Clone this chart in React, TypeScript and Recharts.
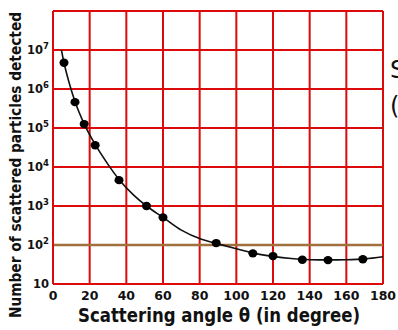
import {
  ComposedChart,
  Line,
  Scatter,
  XAxis,
  YAxis,
  CartesianGrid,
  ReferenceLine,
} from 'recharts';

// measured points (scattering angle in degree, particles detected)
const pointAngles = [6, 12, 17, 23, 36, 51, 60, 89, 109, 120, 136, 150, 169];
const pointCounts = [4.7e6, 4.6e5, 1.26e5, 3.6e4, 4.6e3, 1.0e3, 5.1e2, 112, 61, 52, 42, 41, 43];

// hand-drawn fitted curve
const curveAngles = [4.6, 6, 9, 12, 17, 23, 30, 36, 44, 51, 60, 70, 81, 89, 100, 110, 120, 130, 140, 150, 160, 170, 180];
const curveCounts = [1e7, 4.7e6, 1.35e6, 4.8e5, 1.28e5, 3.8e4, 1.17e4, 4.8e3, 1.9e3, 1.0e3, 5.1e2, 240, 140, 110, 80, 61, 51, 45, 42, 41.5, 42, 44, 50];

const xTicks = [0, 20, 40, 60, 80, 100, 120, 140, 160, 180];
const yTicks = [10, 1e2, 1e3, 1e4, 1e5, 1e6, 1e7, 1e8];

const RED = '#dc0a0a';
const BROWN = '#a0703c';
const FONT = '"DejaVu Sans", sans-serif';

const curveData = curveAngles.map((angle, i) => ({ angle, count: curveCounts[i] }));
const pointData = pointAngles.map((angle, i) => ({ angle, count: pointCounts[i] }));

function YTick({ x, y, payload }: { x: number; y: number; payload: { value: number } }) {
  const exp = Math.round(Math.log10(payload.value));
  if (exp >= 8) return null;
  return (
    <text x={x} y={y} dy={4} textAnchor="end" fontFamily={FONT} fontWeight="bold" fontSize={11.5} fill="#111">
      10
      {exp > 1 && (
        <tspan dy={-5} fontSize={8.5}>
          {exp}
        </tspan>
      )}
    </text>
  );
}

function XTitle() {
  return (
    <text x={219} y={322} textAnchor="middle" fontFamily={FONT} fontWeight="bold" fontSize={20} fill="#111"
      textLength={282} lengthAdjust="spacingAndGlyphs">
      Scattering angle  θ (in degree)
    </text>
  );
}

function YTitle() {
  return (
    <text x={0} y={0} transform="translate(21,165) rotate(-90)" textAnchor="middle" fontFamily={FONT}
      fontWeight="bold" fontSize={16} fill="#111" textLength={306} lengthAdjust="spacingAndGlyphs">
      Number of scattered particles detected
    </text>
  );
}

export default function App() {
  return (
    <div style={{ position: 'absolute', left: 0, top: 0, width: 398, height: 330, overflow: 'hidden', background: '#fff' }}>
      <ComposedChart width={398} height={330} data={curveData} margin={{ top: 11, right: 15, bottom: 0, left: 0 }}>
        <CartesianGrid stroke={RED} strokeWidth={2} horizontal vertical />
        <XAxis
          dataKey="angle"
          type="number"
          domain={[0, 180]}
          ticks={xTicks}
          interval={0}
          height={46}
          tickSize={0}
          tickMargin={7}
          axisLine={{ stroke: RED, strokeWidth: 2 }}
          tick={{ fill: '#111', fontSize: 12.5, fontWeight: 'bold', fontFamily: FONT }}
          label={<XTitle />}
        />
        <YAxis
          dataKey="count"
          type="number"
          scale="log"
          domain={[10, 1e8]}
          ticks={yTicks}
          interval={0}
          allowDataOverflow
          width={53}
          tickSize={0}
          tickMargin={4}
          axisLine={{ stroke: RED, strokeWidth: 2 }}
          tick={YTick}
          label={<YTitle />}
        />
        <ReferenceLine y={100} stroke={BROWN} strokeWidth={2.5} />
        <Line
          type="monotone"
          dataKey="count"
          stroke="#111"
          strokeWidth={1.6}
          dot={false}
          activeDot={false}
          isAnimationActive={false}
        />
        <Scatter data={pointData} fill="#000" shape={(p: any) => <ellipse cx={p.cx} cy={p.cy} rx={4.5} ry={4.2} fill="#000" />}
          isAnimationActive={false} />
      </ComposedChart>
      <div style={{ position: 'absolute', left: 390, top: 52, fontFamily: FONT, fontSize: 24, lineHeight: '36px', color: '#111' }}>
        S<br />(
      </div>
    </div>
  );
}
